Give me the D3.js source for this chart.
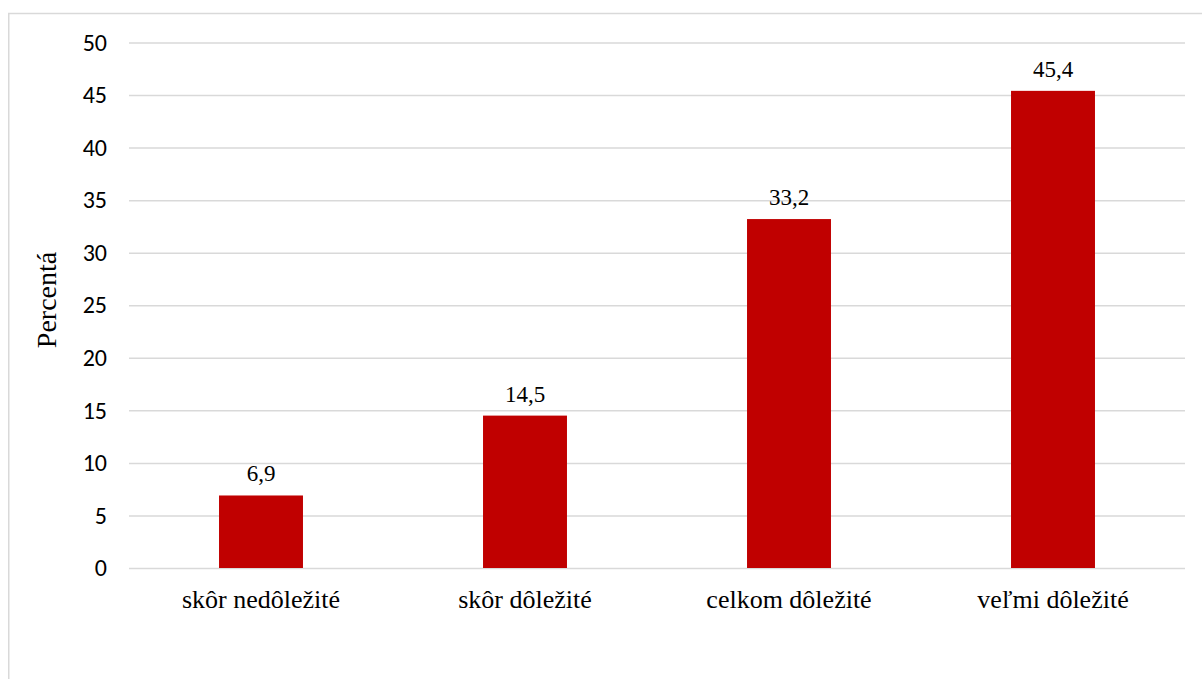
<!DOCTYPE html>
<html><head><meta charset="utf-8">
<script src="https://cdn.jsdelivr.net/npm/d3@7"></script>
<style>body{margin:0;background:#fff}svg{display:block}</style>
</head><body>
<svg id="c" width="1202" height="679"></svg>
<script>
const categories = ["skôr nedôležité", "skôr dôležité", "celkom dôležité", "veľmi dôležité"];
const values = [6.9, 14.5, 33.2, 45.4];
const valueLabels = ["6,9", "14,5", "33,2", "45,4"];
const yTicks = [0, 5, 10, 15, 20, 25, 30, 35, 40, 45, 50];
const yTitle = "Percentá";

const SERIF = '"Liberation Serif", "Times New Roman", Tinos, serif';
const SANS = 'Carlito, Calibri, Lato, sans-serif';

const svg = d3.select("#c");
svg.append("rect").attr("x", 8.75).attr("y", 13.5).attr("width", 1200).attr("height", 700)
  .attr("fill", "#fff").attr("stroke", "#d9d9d9").attr("stroke-width", 1.5);

const m = {left: 129, right: 1185, top: 42.5, bottom: 568};
const x = d3.scaleBand().domain(categories).range([m.left, m.right]).paddingInner(0.682).paddingOuter(0.341);
const y = d3.scaleLinear().domain([0, 50]).range([m.bottom, m.top]);

const yAxis = d3.axisLeft(y).tickValues(yTicks).tickSize(-(m.right - m.left)).tickPadding(22).tickFormat(d3.format("d"));
const gy = svg.append("g").attr("transform", `translate(${m.left},0)`).call(yAxis);
gy.select(".domain").remove();
gy.selectAll(".tick line").attr("stroke", "#d9d9d9").attr("stroke-width", 1.5);
gy.selectAll(".tick text").style("font-family", SANS).style("font-size", "24px").attr("fill", "#000");

svg.append("g").selectAll("rect").data(values).join("rect")
  .attr("x", (d, i) => x(categories[i])).attr("width", x.bandwidth())
  .attr("y", d => y(d)).attr("height", d => y(0) - y(d))
  .attr("fill", "#c00000");

svg.append("g").selectAll("text").data(values).join("text")
  .attr("x", (d, i) => x(categories[i]) + x.bandwidth() / 2)
  .attr("y", d => y(d) - 14)
  .attr("text-anchor", "middle")
  .style("font-family", SERIF).style("font-size", "23px").attr("fill", "#000")
  .text((d, i) => valueLabels[i]);

const xAxis = d3.axisBottom(x).tickSize(0).tickPadding(0);
const gx = svg.append("g").attr("transform", `translate(0,${m.bottom})`).call(xAxis);
gx.select(".domain").remove();
gx.selectAll(".tick text").attr("dy", null).attr("y", 40)
  .style("font-family", SERIF).style("font-size", "26px").attr("fill", "#000");

svg.append("text").attr("transform", `translate(56,300) rotate(-90)`)
  .attr("text-anchor", "middle")
  .style("font-family", SERIF).style("font-size", "28px").attr("fill", "#000")
  .text(yTitle);
</script>
</body></html>
